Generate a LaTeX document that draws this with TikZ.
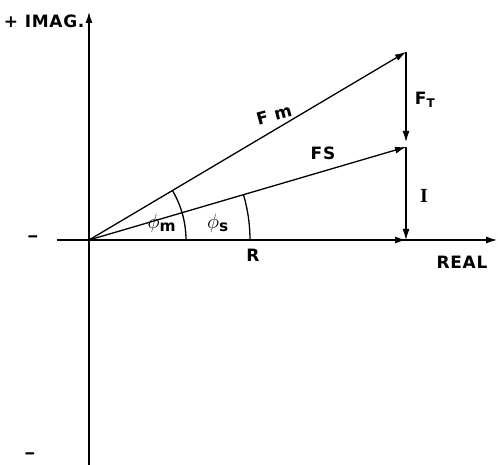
\documentclass[tikz,border=0pt]{standalone}
\usepackage{fontspec}
\setmainfont{DejaVu Sans Bold}[LetterSpace=4]
\newfontfamily\serifI{Liberation Serif}
\usetikzlibrary{arrows.meta}

\begin{document}
\begin{tikzpicture}[x=1pt, y=1pt, line width=1.3pt,
    >={Latex[length=11pt,width=7pt]},
    lbl/.style={inner sep=1pt, font=\fontsize{17}{19}\selectfont},
    anglbl/.style={inner sep=1pt, font=\fontsize{22}{24}\selectfont}]
    \useasboundingbox (-89,-225) rectangle (409,240);

    % axes
    \coordinate (O) at (0,0);
    \coordinate (imtop) at (0,228);
    \coordinate (imbot) at (0,-225);
    \coordinate (releft) at (-32,0);
    \coordinate (reright) at (408,0);
    \draw[->] (imbot) -- (imtop);
    \draw[->] (releft) -- (reright);

    % phasor tips
    \coordinate (Fm) at (317,188);
    \coordinate (Fs) at (317,93);
    \coordinate (Rr) at (317,0);

    \draw[->] (O) -- (Fm);
    \draw[->] (O) -- (Fs);
    \draw[->] (O) -- (Rr);
    \draw[->, shorten >=5pt] (Fm) -- (Fs);
    \draw[->] (Fs) -- (Rr);

    % angles
    \draw (97,0) arc[start angle=0, end angle=30.7, radius=97];
    \draw (161,0) arc[start angle=0, end angle=16.3, radius=161];

    % labels
    \node[lbl, anchor=east] (imag) at (-3,219) {+ IMAG.};
    \node[lbl, xscale=1.3] (minus) at (-56,1) {\textendash};
    \node[lbl, xscale=1.3] (minusb) at (-59,-216) {\textendash};
    \node[lbl, rotate=15] (fmlab) at (185,125) {F m};
    \node[lbl] (fslab) at (234,87) {FS};
    \node[lbl] (ftlab) at (336,140) {F$_{\mathrm{T}}$};
    \node[lbl, font=\fontsize{20}{22}\selectfont\serifI\bfseries] (ilab) at (335,44) {I};
    \node[anglbl] (phim) at (73,17) {$\phi_{\mathrm{m}}$};
    \node[anglbl] (phis) at (129,17) {$\phi_{\mathrm{s}}$};
    \node[lbl] (rlab) at (164,-15) {R};
    \node[lbl] (real) at (373,-22) {REAL};
\end{tikzpicture}
\end{document}
